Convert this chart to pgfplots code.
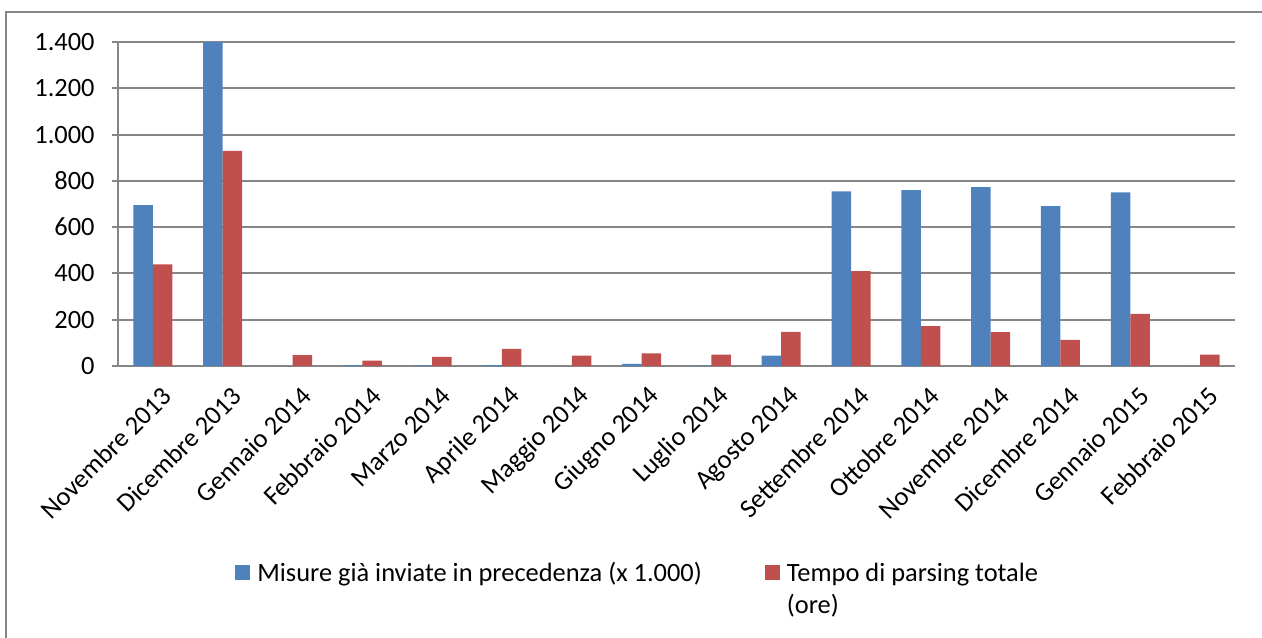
\documentclass[border=0pt]{standalone}
\usepackage{pgfplots}
\pgfplotsset{compat=1.18}
\usepackage{fontspec}
\setmainfont{Carlito}
\definecolor{barblue}{HTML}{4F81BD}
\definecolor{barred}{HTML}{C0504D}
\definecolor{axgray}{HTML}{868686}
\pgfplotstableread{
x misure tempo
0 695 439
1 1400 930
2 0 47
3 4 23
4 3 39
5 4 74
6 0 45
7 9 55
8 2 49
9 45 148
10 755 410
11 760 172
12 773 146
13 691 113
14 750 225
15 0 49
}\datatable
\begin{document}
\begin{tikzpicture}[font=\fontsize{13.2}{16}\selectfont]
\useasboundingbox (-59pt,-135.5pt) rectangle (572pt,183pt);
\draw[axgray, line width=1pt] (-56pt,-140pt) -- (-56pt,177pt) -- (580pt,177pt);
\begin{axis}[
  scale only axis,
  width=558.5pt, height=162pt,
  ybar=0pt, bar width=9.75pt,
  xmin=-0.5, xmax=15.5,
  ymin=0, ymax=1400,
  ytick={0,200,...,1400},
  /pgf/number format/.cd, 1000 sep={.}, assume math mode=true,
  /pgfplots/.cd,
  axis x line*=bottom, axis y line*=left,
  axis line style={axgray, line width=1pt, -},
  ymajorgrids, grid style={axgray, line width=1pt},
  tick align=outside,
  xtick=data,
  xticklabels={Novembre 2013, Dicembre  2013, Gennaio  2014, Febbraio  2014, Marzo 2014, Aprile 2014, Maggio 2014, Giugno 2014, Luglio 2014, Agosto 2014, Settembre 2014, Ottobre 2014, Novembre 2014, Dicembre  2014, Gennaio 2015, Febbraio 2015},
  xticklabel style={rotate=45, anchor=east, inner sep=1pt, yshift=-12pt, xshift=-1pt},
  x tick style={draw=none},
  minor xtick={-0.5,0.5,...,15.5},
  minor x tick style={axgray, line width=1pt},
  minor tick length=4.5pt,
  y tick style={axgray, line width=1pt},
  major tick length=3pt,
  yticklabel style={inner sep=0pt, xshift=-8.5pt},
  legend columns=2,
  legend style={draw=none, fill=none, inner sep=0pt, anchor=north west,
    at={(0.1047,-0.574)}, row sep=0pt,
    /tikz/every even column/.append style={column sep=28pt},
    nodes={inner sep=3.5pt, anchor=west}},
  legend image code/.code={\fill[#1] (0pt,-3.75pt) rectangle (7.5pt,3.75pt);},
  clip=false,
]
\addplot[fill=barblue, draw=none] table[x=x, y=misure] {\datatable};
\addplot[fill=barred, draw=none] table[x=x, y=tempo] {\datatable};
\legend{\strut Misure già inviate in precedenza (x 1.000), \strut\smash{\parbox[t]{140pt}{Tempo di parsing totale\\(ore)}}}
\end{axis}
\end{tikzpicture}
\end{document}
